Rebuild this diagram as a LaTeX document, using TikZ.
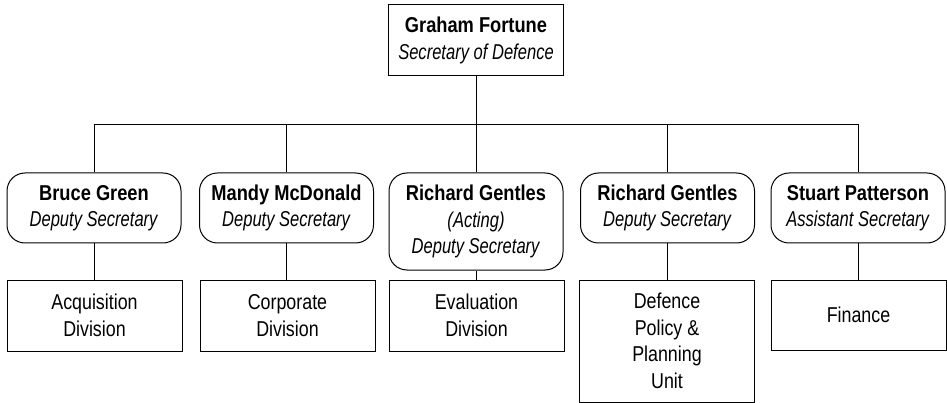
\documentclass[tikz,border=0pt]{standalone}
\usepackage{fontspec}
\setmainfont{Liberation Sans}[UprightFeatures={FakeStretch=0.83}, BoldFeatures={FakeStretch=0.85}, ItalicFeatures={FakeStretch=0.77}]
\begin{document}
\begin{tikzpicture}[x=1pt,y=-1pt,
  box/.style={draw, line width=1pt, inner sep=0pt, align=center, text=black,
    font=\fontsize{21.5}{26.5}\selectfont},
  head/.style={box, minimum width=175pt, minimum height=71pt},
  dep/.style={box, rounded corners=18pt, minimum width=174pt, minimum height=70pt},
  unitbox/.style={box, minimum width=175pt, minimum height=71pt},
  conn/.style={draw, line width=1pt}]
\useasboundingbox (0,0) rectangle (947,403);
\node[head] (top) at (476,40.5) {\textbf{Graham Fortune}\\\textit{Secretary of Defence}};
\node[dep] (d1) at (94,208) {\textbf{Bruce Green}\\\textit{Deputy Secretary}};
\node[dep] (d2) at (286.5,208) {\textbf{Mandy McDonald}\\\textit{Deputy Secretary}};
\node[dep, minimum height=97pt] (d3) at (476,221.5) {\textbf{Richard Gentles}\\\textit{(Acting)}\\\textit{Deputy Secretary}};
\node[dep] (d4) at (667.5,208) {\textbf{Richard Gentles}\\\textit{Deputy Secretary}};
\node[dep] (d5) at (858,208) {\textbf{Stuart Patterson}\\\textit{Assistant Secretary}};
\node[unitbox] (u1) at (94.5,315.5) {Acquisition\\Division};
\node[unitbox] (u2) at (287.5,315.5) {Corporate\\Division};
\node[unitbox] (u3) at (476.5,315.5) {Evaluation\\Division};
\node[unitbox, minimum height=122pt] (u4) at (667,341) {Defence\\Policy \&\\Planning\\Unit};
\node[unitbox, minimum height=70pt] (u5) at (858.5,315) {Finance};
\coordinate (bus) at (476,125);
\draw[conn] (top.south) -- (top.south |- bus);
\foreach \i in {1,...,5}{
  \draw[conn] (d\i.north) |- (top.south |- bus);
  \draw[conn] (d\i.south) -- (d\i.south |- u\i.north);
}
\end{tikzpicture}
\end{document}
